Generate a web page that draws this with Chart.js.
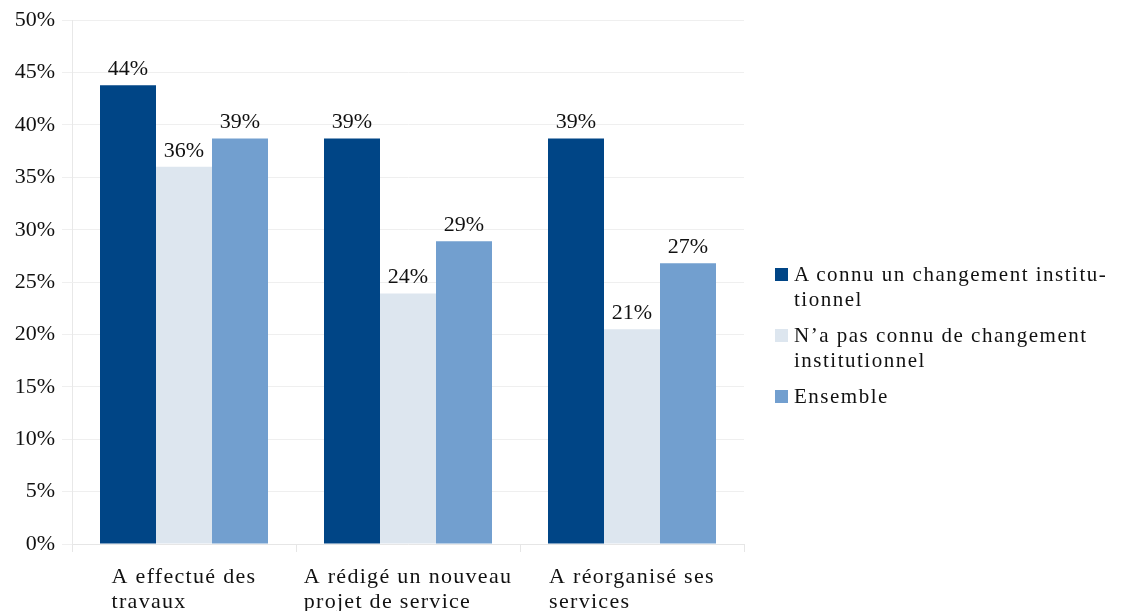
<!DOCTYPE html>
<html>
<head>
<meta charset="utf-8">
<script src="https://cdn.jsdelivr.net/npm/chart.js@4"></script>
<style>
  html, body { margin: 0; padding: 0; background: #fff; }
  #wrap { position: relative; width: 1126px; height: 611px; }
  #legende { position: absolute; left: 775px; top: 262px; font-family: "Liberation Serif", serif; font-size: 21px; color: #111; letter-spacing: 1.5px; }
  .item { position: relative; padding-left: 19px; line-height: 25px; margin-bottom: 11px; }
  .item span { position: absolute; left: 0; top: 6px; width: 13px; height: 13px; }
</style>
</head>
<body>
<div id="wrap">
  <canvas id="graf" width="1126" height="611"></canvas>
  <div id="legende"></div>
</div>
<script>
// categories et series
const categories = [['A effectué des', 'travaux'], ['A rédigé un nouveau', 'projet de service'], ['A réorganisé ses', 'services']];
const changement = [43.8, 38.7, 38.7];
const sansChangement = [36.0, 23.9, 20.5];
const ensemble = [38.7, 28.9, 26.8];
const nomsSeries = ['A connu un changement institu-\ntionnel', 'N\u2019a pas connu de changement\ninstitutionnel', 'Ensemble'];
const couleurs = ['#004586', '#dde6ef', '#729fcf'];
const ticksY = [0, 5, 10, 15, 20, 25, 30, 35, 40, 45, 50];

const police = '"Liberation Serif", serif';

// etiquettes au dessus des barres
const etiquettes = {
  id: 'etiquettes',
  afterDatasetsDraw(chart) {
    const ctx = chart.ctx;
    ctx.save();
    ctx.font = '22px ' + police;
    ctx.fillStyle = '#111';
    ctx.textAlign = 'center';
    ctx.textBaseline = 'bottom';
    chart.data.datasets.forEach((ds, i) => {
      chart.getDatasetMeta(i).data.forEach((bar, j) => {
        ctx.fillText(Math.round(ds.data[j]) + '%', bar.x, bar.y - 5);
      });
    });
    ctx.restore();
  }
};

// libelles de l'axe x, alignés a gauche dans un bloc centré
const libellesX = {
  id: 'libellesX',
  afterDraw(chart) {
    const ctx = chart.ctx;
    const sx = chart.scales.x;
    ctx.save();
    ctx.font = '22px ' + police;
    ctx.letterSpacing = '1.3px';
    ctx.fillStyle = '#111';
    ctx.textAlign = 'left';
    ctx.textBaseline = 'alphabetic';
    categories.forEach((lignes, i) => {
      const larg = Math.max(...lignes.map(l => ctx.measureText(l).width));
      const x0 = sx.getPixelForValue(i) - larg / 2;
      lignes.forEach((l, k) => ctx.fillText(l, x0, sx.top + 39 + k * 25));
    });
    ctx.restore();
  }
};

const graf = new Chart(document.getElementById('graf'), {
  type: 'bar',
  data: {
    labels: categories.map(c => c.join(' ')),
    datasets: [
      { label: nomsSeries[0], data: changement, backgroundColor: couleurs[0] },
      { label: nomsSeries[1], data: sansChangement, backgroundColor: couleurs[1] },
      { label: nomsSeries[2], data: ensemble, backgroundColor: couleurs[2] }
    ]
  },
  options: {
    responsive: false,
    animation: false,
    layout: { padding: { top: 8, right: 382, left: 0, bottom: 0 } },
    categoryPercentage: 0.75,
    barPercentage: 1,
    plugins: { legend: { display: false }, tooltip: { enabled: false } },
    scales: {
      x: {
        ticks: { display: false },
        grid: { drawOnChartArea: false, color: '#e6e6e6', tickLength: 8 },
        border: { color: '#e6e6e6' },
        afterFit: s => { s.height = 67; }
      },
      y: {
        min: 0, max: 50,
        afterBuildTicks: s => { s.ticks = ticksY.map(v => ({ value: v })); },
        ticks: { font: { family: police, size: 22 }, color: '#111', padding: 7, callback: v => v + '%' },
        grid: { color: '#efefef', tickLength: 10 },
        border: { color: '#e8e8e8' },
        afterFit: s => { s.width = 72; }
      }
    }
  },
  plugins: [etiquettes, libellesX]
});

// legende a droite
const legende = document.getElementById('legende');
nomsSeries.forEach((nom, i) => {
  const div = document.createElement('div');
  div.className = 'item';
  div.innerHTML = '<span style="background:' + couleurs[i] + '"></span>' + nom.replace('\n', '<br>');
  legende.appendChild(div);
});
</script>
</body>
</html>
